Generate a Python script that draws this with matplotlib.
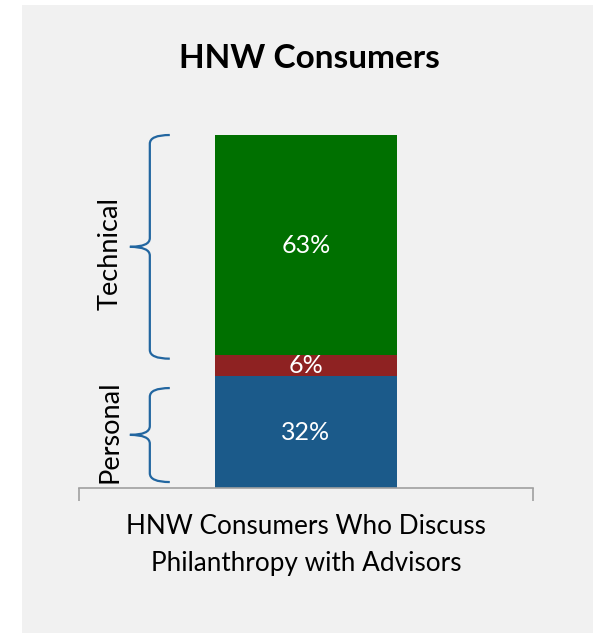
import matplotlib.pyplot as plt
from matplotlib.patches import Rectangle, PathPatch
from matplotlib.path import Path

plt.rcParams['font.family'] = ['Lato', 'DejaVu Sans']

# data
category = "HNW Consumers Who Discuss\nPhilanthropy with Advisors"
segments = ["Personal part", "Both", "Technical part"]
values = [32, 6, 63]
colors = ["#1B5A8A", "#8E2222", "#007000"]

# brace groups: label, bottom, top, tip
groups = ["Technical", "Personal"]
group_lo = [37, 1.7]
group_hi = [101, 28.6]
group_mid = [69, 15.2]

W, H = 593, 633
fig = plt.figure(figsize=(W / 100, H / 100), dpi=100)
fig.patch.set_facecolor("white")
fig.patches.append(Rectangle((22 / W, 0), 1 - 22 / W, 1 - 5 / H, transform=fig.transFigure,
                             facecolor="#F1F1F1", edgecolor="none", zorder=-5))

ax = fig.add_axes([79 / W, (H - 488) / H, (533 - 79) / W, (488 - 135) / H])
ax.set_facecolor("none")
ax.set_zorder(2)

bottom = 0
for val, col in zip(values, colors):
    ax.bar(0, val, width=0.403, bottom=bottom, color=col, zorder=2)
    ax.text(0, bottom + val / 2, f"{val}%", ha="center", va="center", color="white",
            fontsize=18, zorder=3)
    bottom += val

ax.set_xlim(-0.5, 0.5)
ax.set_ylim(0, sum(values))
for s in ["top", "right", "left"]:
    ax.spines[s].set_visible(False)
ax.spines["bottom"].set_color("#A0A0A0")
ax.spines["bottom"].set_linewidth(1.2)
ax.set_yticks([])
ax.set_xticks([-0.5, 0.5])
ax.set_xticklabels([])
ax.tick_params(axis="x", length=9, width=1.2, color="#A0A0A0")


def brace(ax, lo, hi, mid, x_end=-0.300, x_spine=-0.344, x_tip=-0.388, r=2.5):
    verts = [
        (x_end, hi), (x_spine, hi), (x_spine, hi - r),
        (x_spine, mid + r),
        (x_spine, mid), (x_tip, mid),
        (x_spine, mid), (x_spine, mid - r),
        (x_spine, lo + r),
        (x_spine, lo), (x_end, lo),
    ]
    codes = [Path.MOVETO, Path.CURVE3, Path.CURVE3, Path.LINETO,
             Path.CURVE3, Path.CURVE3, Path.CURVE3, Path.CURVE3,
             Path.LINETO, Path.CURVE3, Path.CURVE3]
    ax.add_patch(PathPatch(Path(verts, codes), facecolor="none", edgecolor="#2266A0",
                           linewidth=1.6, clip_on=False, zorder=2))


for name, lo, hi, mid in zip(groups, group_lo, group_hi, group_mid):
    brace(ax, lo, hi, mid)
    ax.text(-0.432, mid - 2 if name == "Technical" else mid + 1, name, rotation=90,
            ha="center", va="center", fontsize=19.5, color="black")

fig.text(309 / W, 1 - 58 / H, "HNW Consumers", ha="center", va="center",
         fontsize=24, fontweight="bold")
fig.text(306 / W, 1 - 545 / H, category, ha="center", va="center", fontsize=18.8,
         linespacing=1.6)

fig.savefig("out.png", dpi=100)
